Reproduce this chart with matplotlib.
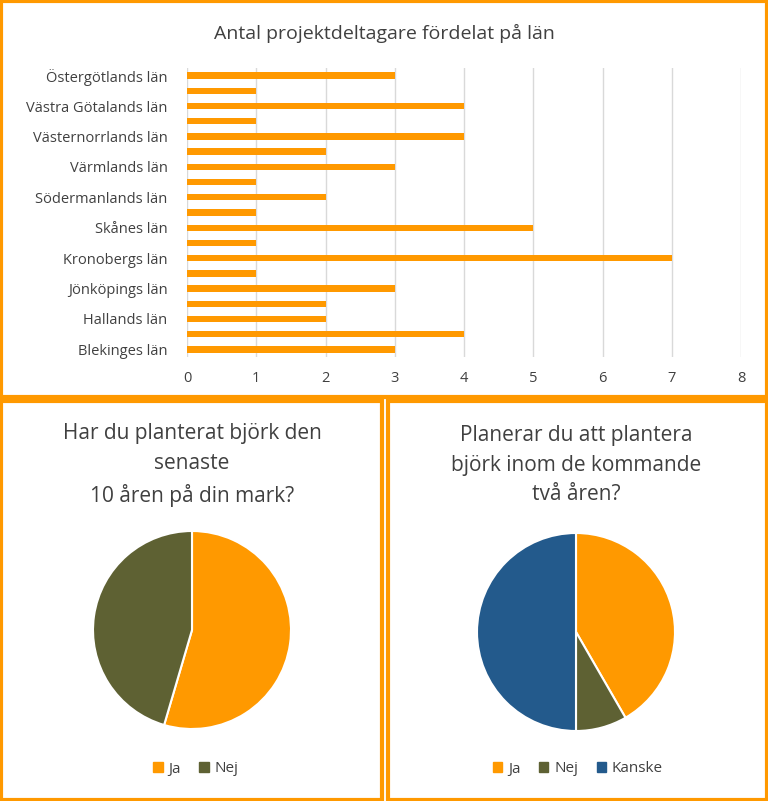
import matplotlib
matplotlib.use("Agg")
import matplotlib.pyplot as plt
from matplotlib.patches import Rectangle

plt.rcParams["font.family"] = ["Open Sans", "DejaVu Sans"]

ORANGE = "#FF9900"
OLIVE = "#5E6133"
BLUE = "#235A8C"
TEXT = "#404040"

counties = [
    "Blekinges län", "Dalarnas län", "Hallands län", "Jämtlands län", "Jönköpings län",
    "Kalmar län", "Kronobergs län", "Norrbottens län", "Skånes län", "Stockholms län",
    "Södermanlands län", "Uppsala län", "Värmlands län", "Västerbottens län",
    "Västernorrlands län", "Västmanlands län", "Västra Götalands län", "Örebro län",
    "Östergötlands län",
]
participants = [3, 4, 2, 2, 3, 1, 7, 1, 5, 1, 2, 1, 3, 2, 4, 1, 4, 1, 3]

planted_labels = ["Ja", "Nej"]
planted_values = [6, 5]
plan_labels = ["Ja", "Nej", "Kanske"]
plan_values = [5, 1, 6]

W, H = 768, 801
fig = plt.figure(figsize=(W / 100, H / 100), dpi=100)


def box(x0, y0, x1, y1):
    # pixel coords, origin top-left
    return [x0 / W, 1 - y1 / H, (x1 - x0) / W, (y1 - y0) / H]


# orange frames
for x0, y0, x1, y1 in [(1, 1, 767, 397), (1, 401, 382, 800), (388, 401, 767, 800)]:
    fig.patches.append(Rectangle((x0 / W, 1 - y1 / H), (x1 - x0) / W, (y1 - y0) / H,
                                 transform=fig.transFigure, fill=False,
                                 edgecolor=ORANGE, linewidth=3))

# bar chart
ax = fig.add_axes(box(187, 68, 741, 357))
pos = range(len(counties))
ax.barh(pos, participants, height=0.42, color=ORANGE, zorder=3)
ax.set_xlim(0, 8)
ax.set_ylim(-0.5, len(counties) - 0.5)
ax.set_yticks(list(pos)[::2])
ax.set_yticklabels(counties[::2], fontsize=10.5, color=TEXT)
ax.set_xticks(range(9))
ax.tick_params(axis="x", labelsize=10.5, colors=TEXT, length=0, pad=10)
ax.tick_params(axis="y", length=0, pad=14)
ax.grid(axis="x", color="#d9d9d9", linewidth=1, zorder=0)
for s in ax.spines.values():
    s.set_visible(False)
fig.text(384 / W, 1 - 33 / H, "Antal projektdeltagare fördelat på län",
         ha="center", va="center", fontsize=14, color=TEXT)


def pie(cx, cy, values, colors, labels, title, legend_x):
    r = 99
    pa = fig.add_axes(box(cx - r, cy - r, cx + r, cy + r))
    pa.pie(values, colors=colors, startangle=90, counterclock=False,
           wedgeprops={"edgecolor": "white", "linewidth": 1.5}, radius=1)
    pa.set_xlim(-1, 1)
    pa.set_ylim(-1, 1)
    pa.set_aspect("equal")
    fig.text(cx / W, 1 - 465 / H, title, ha="center", va="center",
             fontsize=15, color=TEXT, linespacing=1.55)
    lg = fig.legend(handles=[plt.Rectangle((0, 0), 1, 1, color=c) for c in colors],
                    labels=labels, loc="center", bbox_to_anchor=(legend_x / W, 1 - 769 / H),
                    ncol=len(labels), frameon=False, fontsize=11, handlelength=0.6,
                    handleheight=0.6, handletextpad=0.4, columnspacing=1.2)
    for t in lg.get_texts():
        t.set_color(TEXT)


pie(192, 630, planted_values, [ORANGE, OLIVE], planted_labels,
    "Har du planterat björk den\nsenaste\n10 åren på din mark?", 196)
pie(576, 632, plan_values, [ORANGE, OLIVE, BLUE], plan_labels,
    "Planerar du att plantera\nbjörk inom de kommande\ntvå åren?", 578)

fig.savefig("out.png", dpi=100)
